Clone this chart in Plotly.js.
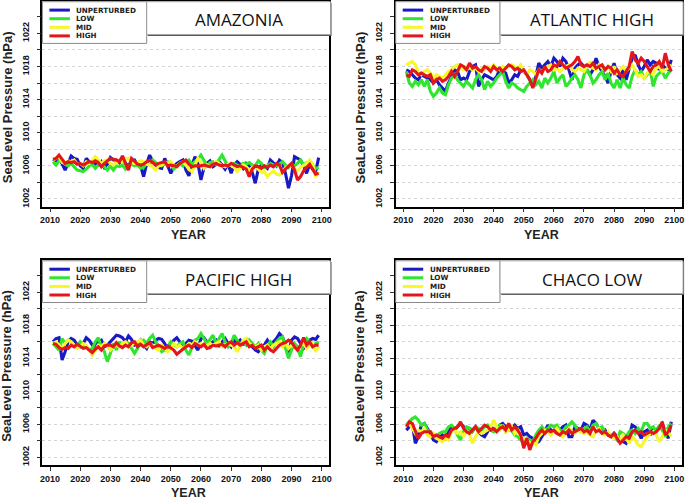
<!DOCTYPE html>
<html>
<head>
<meta charset="utf-8">
<script src="https://cdn.plot.ly/plotly-3.0.1.min.js"></script>
<style>
html,body{margin:0;padding:0;background:#fff;}
#chart{width:685px;height:499px;}
</style>
</head>
<body>
<div id="chart"></div>
<script>
// ---------------- DATA ----------------
const years = [];
for (let y = 2011; y <= 2099; y++) years.push(y);

const panelTitles = ['AMAZONIA', 'ATLANTIC HIGH', 'PACIFIC HIGH', 'CHACO LOW'];
const seriesNames = ['UNPERTURBED', 'LOW', 'MID', 'HIGH'];
const xTickVals = [2010, 2020, 2030, 2040, 2050, 2060, 2070, 2080, 2090, 2100];
const yTickVals = [1002, 1004, 1006, 1008, 1010, 1012, 1014, 1016, 1018, 1020, 1022, 1024];
const yTickText = ['1002', '', '1006', '', '1010', '', '1014', '', '1018', '', '1022', ''];
const xAxisTitle = 'YEAR';
const yAxisTitle = 'SeaLevel Pressure (hPa)';

const amazoniaUnperturbed = [1006.8,1006.6,1007.0,1006.2,1005.5,1006.3,1007.2,1006.9,1006.8,1006.0,
 1005.7,1006.9,1006.5,1006.5,1006.2,1006.1,1006.5,1005.8,1006.2,1007.0,
 1006.7,1006.7,1006.4,1007.0,1006.3,1006.0,1006.6,1006.7,1006.1,1006.0,
 1004.7,1006.2,1007.3,1006.6,1006.1,1005.8,1005.7,1006.9,1006.1,1005.1,
 1005.9,1006.3,1006.5,1006.7,1005.5,1004.8,1006.0,1007.1,1006.3,1004.3,
 1005.8,1006.3,1006.6,1005.9,1006.2,1006.5,1006.1,1005.6,1006.2,1005.1,
 1006.1,1006.5,1006.2,1005.7,1006.3,1006.0,1005.2,1003.9,1005.6,1006.1,
 1006.0,1005.7,1006.7,1006.3,1006.0,1006.7,1006.4,1005.1,1003.3,1004.8,
 1007.1,1006.9,1006.7,1006.0,1005.1,1006.2,1005.6,1005.3,1007.0];
const amazoniaLow = [1006.5,1006.1,1006.6,1006.7,1006.2,1006.0,1006.3,1005.9,1005.5,1005.4,
 1005.3,1005.6,1006.0,1006.2,1005.7,1006.1,1006.3,1005.9,1005.5,1006.0,
 1005.5,1006.0,1005.9,1006.1,1005.6,1006.0,1006.2,1006.0,1006.1,1005.7,
 1005.8,1006.3,1006.1,1006.7,1006.4,1006.1,1006.0,1006.2,1006.5,1006.3,
 1005.6,1006.0,1006.3,1006.0,1006.4,1006.7,1006.2,1006.5,1006.8,1007.3,
 1006.6,1006.0,1006.4,1006.5,1006.2,1006.7,1007.3,1006.6,1006.0,1006.2,
 1006.3,1006.1,1005.9,1006.3,1006.2,1006.4,1006.1,1006.0,1006.6,1006.3,
 1005.8,1006.0,1006.3,1006.1,1006.0,1006.2,1006.5,1006.1,1005.8,1006.2,
 1006.0,1006.3,1006.7,1006.1,1006.4,1006.2,1006.0,1005.7,1005.8];
const amazoniaMid = [1006.7,1006.9,1007.1,1006.4,1006.3,1006.6,1006.5,1006.7,1006.2,1006.3,
 1006.0,1006.5,1006.3,1006.6,1007.1,1006.7,1006.3,1006.6,1006.7,1006.3,
 1006.1,1006.4,1006.7,1006.5,1006.8,1006.9,1006.4,1006.3,1006.5,1006.6,
 1006.5,1006.2,1006.1,1005.9,1005.5,1006.0,1006.1,1006.4,1006.3,1006.5,
 1006.0,1005.9,1006.3,1006.5,1006.1,1005.6,1005.3,1006.2,1006.9,1006.4,
 1005.7,1006.1,1005.9,1006.2,1006.5,1006.3,1006.0,1005.9,1006.2,1006.1,
 1005.8,1005.3,1005.7,1006.1,1005.9,1005.5,1005.8,1006.0,1005.6,1005.2,
 1005.3,1004.7,1005.1,1005.4,1005.0,1004.9,1005.2,1005.8,1006.0,1006.1,
 1005.6,1005.4,1005.8,1006.0,1006.3,1006.7,1006.2,1004.7,1005.3];
const amazoniaHigh = [1006.8,1006.9,1007.3,1006.8,1006.3,1006.5,1006.4,1006.5,1006.2,1006.3,
 1006.1,1006.3,1006.5,1006.4,1006.6,1006.4,1005.9,1006.3,1006.6,1006.9,
 1006.8,1006.7,1006.5,1007.2,1006.3,1005.5,1006.9,1006.6,1006.2,1006.1,
 1006.2,1006.5,1006.7,1006.4,1006.1,1006.3,1006.4,1006.5,1006.0,1006.1,
 1006.0,1005.9,1006.3,1006.5,1006.7,1006.2,1005.9,1006.0,1006.0,1006.0,
 1006.1,1006.0,1005.9,1006.2,1006.3,1006.1,1006.0,1006.1,1006.0,1006.3,
 1006.1,1005.9,1006.0,1005.8,1005.6,1004.7,1005.6,1006.0,1005.9,1005.7,
 1006.0,1005.8,1006.1,1005.9,1006.3,1006.1,1005.2,1005.6,1006.0,1006.3,
 1005.5,1004.3,1004.7,1005.4,1005.8,1006.2,1005.6,1005.0,1005.1];

const atlanticUnperturbed = [1017.6,1017.4,1017.0,1016.6,1016.4,1017.0,1016.8,1016.6,1016.4,1016.0,
 1016.4,1015.8,1015.4,1015.0,1016.0,1016.8,1017.6,1017.4,1016.4,1016.6,
 1016.4,1017.4,1018.0,1018.2,1015.6,1016.4,1017.0,1016.8,1016.6,1016.4,
 1016.8,1017.6,1017.4,1017.2,1016.0,1016.4,1017.0,1016.8,1017.6,1017.4,
 1017.0,1016.4,1015.8,1016.8,1018.4,1017.8,1018.2,1018.6,1018.0,1019.0,
 1018.6,1018.0,1019.0,1018.6,1017.6,1016.4,1017.8,1018.2,1018.4,1018.0,
 1017.6,1017.0,1017.6,1019.0,1018.0,1017.4,1016.8,1016.0,1017.4,1018.4,
 1017.0,1016.6,1017.6,1016.4,1017.8,1019.0,1019.4,1018.2,1017.4,1018.0,
 1018.8,1018.2,1018.6,1018.4,1017.6,1018.2,1017.8,1017.6,1018.8];
const atlanticLow = [1017.4,1016.0,1015.6,1016.2,1015.8,1016.4,1015.6,1016.4,1015.0,1014.4,
 1014.8,1015.4,1014.8,1014.6,1015.8,1016.6,1017.0,1016.4,1016.0,1015.6,
 1016.2,1015.8,1015.4,1016.4,1017.0,1016.4,1015.2,1016.2,1015.6,1016.0,
 1016.6,1017.0,1017.4,1016.2,1015.4,1016.0,1015.8,1015.4,1015.2,1015.0,
 1015.6,1016.0,1016.4,1015.8,1016.2,1015.4,1016.6,1016.0,1016.6,1017.4,
 1016.0,1016.6,1017.0,1015.6,1016.0,1016.6,1017.0,1016.4,1015.4,1017.0,
 1017.6,1017.0,1016.0,1016.4,1017.0,1017.4,1016.4,1017.2,1016.0,1015.4,
 1016.4,1015.4,1016.6,1015.8,1015.4,1016.8,1017.6,1017.0,1017.4,1016.6,
 1017.0,1017.6,1015.6,1016.8,1017.2,1017.4,1016.6,1017.2,1017.6];
const atlanticMid = [1018.2,1018.4,1018.6,1018.2,1017.4,1017.0,1017.4,1017.6,1017.2,1016.6,
 1017.0,1016.8,1016.6,1017.0,1017.4,1017.6,1018.0,1018.2,1017.8,1017.6,
 1018.0,1017.8,1017.6,1017.8,1017.4,1017.8,1017.6,1018.0,1017.8,1018.2,
 1017.8,1017.6,1018.0,1017.8,1018.0,1018.2,1018.0,1017.8,1018.2,1017.4,
 1017.0,1017.6,1017.4,1017.0,1017.6,1017.4,1017.8,1018.0,1018.2,1017.6,
 1017.8,1017.4,1017.8,1018.0,1018.2,1017.6,1017.4,1017.8,1017.6,1017.4,
 1018.0,1018.6,1017.8,1017.6,1018.2,1017.8,1017.6,1018.0,1017.4,1018.0,
 1017.2,1017.6,1018.0,1017.4,1017.8,1018.2,1017.6,1016.8,1017.0,1016.6,
 1017.2,1017.4,1017.0,1017.8,1018.0,1017.4,1017.6,1017.8,1018.2];
const atlanticHigh = [1017.0,1016.8,1017.6,1017.4,1017.0,1017.2,1017.0,1016.8,1017.0,1016.0,
 1016.4,1016.6,1016.2,1016.4,1016.8,1017.4,1016.8,1017.4,1018.2,1018.0,
 1017.6,1018.4,1017.8,1018.0,1017.6,1017.4,1018.0,1017.8,1017.4,1018.0,
 1017.6,1017.8,1017.4,1017.8,1018.2,1018.0,1017.6,1017.8,1017.4,1017.6,
 1017.0,1016.4,1015.4,1016.4,1017.6,1017.2,1018.0,1017.4,1017.6,1018.2,
 1018.0,1018.6,1018.2,1017.8,1018.0,1018.2,1018.6,1019.2,1018.2,1018.0,
 1018.2,1018.0,1018.4,1017.8,1018.0,1018.2,1017.6,1018.0,1017.8,1017.2,
 1017.6,1017.0,1016.8,1017.4,1018.0,1019.8,1018.8,1018.4,1019.0,1018.6,
 1018.0,1017.4,1018.0,1018.2,1018.6,1017.8,1019.6,1018.2,1017.4];

const pacificUnperturbed = [1016.0,1016.4,1016.5,1013.8,1014.8,1016.0,1016.4,1016.2,1015.6,1015.4,
 1015.8,1016.5,1016.2,1015.6,1015.4,1016.0,1016.2,1015.4,1015.6,1016.0,
 1016.4,1016.8,1016.7,1016.5,1016.0,1016.7,1016.3,1015.6,1015.8,1016.2,
 1015.6,1015.2,1016.0,1015.8,1016.2,1016.4,1016.3,1015.8,1015.0,1015.4,
 1016.2,1016.5,1016.0,1015.4,1015.8,1016.2,1016.1,1015.6,1015.0,1016.4,
 1016.5,1016.0,1015.6,1016.0,1016.2,1015.4,1016.0,1016.4,1015.8,1015.4,
 1016.2,1015.9,1016.2,1015.6,1016.4,1015.8,1015.4,1015.0,1014.8,1015.2,
 1015.6,1016.2,1015.6,1016.0,1016.4,1017.0,1016.6,1015.6,1014.6,1016.2,
 1016.6,1016.4,1015.8,1015.2,1015.6,1016.2,1016.4,1016.3,1016.8];
const pacificLow = [1015.8,1015.4,1015.0,1016.4,1015.8,1016.2,1016.0,1015.6,1015.4,1016.0,
 1015.6,1015.4,1015.0,1015.2,1016.0,1016.5,1015.4,1014.8,1013.6,1014.6,
 1015.8,1015.0,1016.0,1015.4,1015.6,1015.8,1015.2,1014.6,1015.2,1016.0,
 1016.2,1015.8,1016.4,1016.8,1016.0,1015.4,1014.8,1015.0,1015.4,1016.0,
 1015.6,1015.4,1015.8,1016.0,1015.0,1014.4,1015.4,1016.2,1016.4,1017.0,
 1016.4,1015.8,1016.3,1016.8,1015.8,1016.5,1017.0,1016.0,1015.4,1015.8,
 1016.8,1016.2,1015.4,1016.0,1015.6,1016.2,1015.8,1015.4,1015.8,1015.0,
 1014.6,1015.6,1016.0,1015.4,1016.0,1016.4,1016.6,1015.4,1014.0,1015.0,
 1015.8,1015.4,1014.2,1015.8,1016.4,1016.0,1015.4,1015.8,1016.0];
const pacificMid = [1015.8,1016.0,1015.6,1015.2,1015.8,1016.2,1016.0,1015.6,1015.2,1015.4,
 1015.8,1015.6,1015.0,1014.4,1015.0,1015.6,1015.4,1015.8,1015.6,1015.0,
 1015.4,1015.6,1015.4,1015.8,1016.0,1015.4,1015.6,1015.8,1016.0,1016.2,
 1015.6,1015.4,1015.8,1015.6,1015.2,1015.0,1015.6,1015.2,1014.8,1015.2,
 1015.8,1015.4,1015.6,1015.2,1015.4,1015.8,1015.6,1016.0,1015.6,1015.8,
 1015.4,1015.6,1015.8,1015.6,1015.8,1016.0,1015.4,1015.6,1015.8,1015.6,
 1015.4,1014.8,1015.6,1016.2,1016.4,1015.8,1015.6,1015.4,1015.6,1015.0,
 1015.4,1015.6,1015.2,1015.6,1015.8,1016.0,1015.4,1015.8,1015.2,1015.6,
 1015.4,1015.0,1015.6,1015.8,1015.2,1015.6,1015.8,1014.8,1015.4];
const pacificHigh = [1015.8,1015.7,1015.3,1015.1,1015.3,1015.2,1015.6,1015.4,1015.7,1015.5,
 1015.2,1015.3,1015.0,1014.7,1015.1,1015.4,1015.0,1015.5,1015.6,1015.6,
 1015.4,1015.9,1015.5,1015.3,1015.6,1015.4,1015.9,1016.0,1015.4,1015.7,
 1015.4,1015.6,1015.9,1015.3,1015.5,1015.6,1015.4,1015.2,1015.5,1015.2,
 1015.0,1014.5,1014.8,1015.2,1015.4,1015.6,1015.3,1015.8,1015.6,1015.4,
 1015.7,1015.2,1015.3,1015.6,1015.5,1015.6,1015.7,1015.4,1015.8,1016.0,
 1015.6,1015.9,1015.6,1015.8,1016.0,1015.4,1015.6,1015.2,1015.4,1015.6,
 1015.0,1015.4,1015.0,1014.8,1015.2,1015.6,1015.8,1015.9,1016.2,1016.0,
 1015.4,1015.0,1015.6,1016.5,1015.6,1016.0,1015.4,1015.6,1015.6];

const chacoUnperturbed = [1005.3,1005.7,1006.1,1003.7,1004.5,1005.9,1006.1,1005.5,1004.9,1004.1,
 1003.9,1004.5,1004.7,1004.3,1005.1,1005.7,1005.3,1005.7,1006.1,1005.7,
 1005.1,1005.5,1005.3,1005.7,1005.1,1004.7,1004.5,1005.1,1005.7,1005.3,
 1005.5,1005.9,1006.1,1005.7,1005.3,1005.5,1005.9,1005.5,1005.7,1004.7,
 1004.9,1004.5,1004.3,1003.7,1003.9,1004.5,1005.1,1005.9,1005.3,1005.1,
 1005.5,1005.3,1005.7,1005.9,1004.5,1004.5,1005.7,1005.5,1005.3,1006.1,
 1005.9,1005.3,1006.5,1006.1,1005.5,1005.1,1005.3,1004.7,1004.5,1004.9,
 1004.5,1004.1,1003.9,1003.7,1004.5,1005.9,1005.7,1005.1,1004.3,1005.1,
 1005.3,1004.7,1005.5,1005.3,1005.7,1006.1,1005.1,1004.3,1006.3];
const chacoLow = [1005.9,1006.3,1006.7,1006.9,1006.5,1005.9,1006.1,1005.3,1005.1,1004.7,
 1004.5,1004.9,1005.1,1005.1,1005.7,1005.9,1005.5,1004.7,1004.1,1005.1,
 1005.7,1005.5,1005.1,1005.7,1005.5,1005.3,1005.7,1005.9,1005.3,1005.1,
 1005.5,1005.9,1005.7,1005.1,1005.5,1005.3,1004.7,1004.5,1004.1,1003.9,
 1004.3,1004.1,1003.9,1004.7,1005.3,1005.7,1005.3,1005.5,1005.9,1005.7,
 1005.9,1005.3,1005.1,1005.7,1005.9,1006.3,1005.9,1005.3,1005.1,1005.5,
 1005.7,1005.1,1005.9,1006.1,1005.5,1005.7,1005.1,1004.9,1004.7,1004.5,
 1004.1,1005.1,1004.9,1004.5,1005.1,1005.3,1004.9,1005.5,1005.1,1006.1,
 1006.1,1005.5,1005.7,1005.1,1005.9,1005.3,1004.5,1005.7,1006.1];
const chacoMid = [1005.9,1006.1,1005.5,1004.9,1005.3,1005.1,1005.5,1004.7,1004.5,1004.9,
 1004.3,1004.1,1003.9,1004.3,1004.1,1005.1,1005.3,1004.9,1005.1,1004.5,
 1005.3,1004.7,1003.7,1004.5,1005.1,1004.9,1005.1,1005.3,1005.7,1006.5,
 1005.7,1005.3,1005.9,1005.1,1005.3,1005.7,1004.9,1005.3,1004.5,1004.3,
 1004.1,1003.7,1003.9,1003.5,1004.5,1004.9,1005.3,1005.1,1004.7,1005.1,
 1005.5,1004.9,1004.5,1005.1,1005.5,1005.1,1004.9,1005.3,1005.1,1004.9,
 1005.1,1004.7,1004.5,1005.1,1005.5,1004.9,1004.7,1005.1,1004.5,1004.3,
 1004.5,1003.9,1004.7,1004.3,1003.7,1004.5,1004.1,1003.5,1003.3,1003.9,
 1004.5,1004.9,1005.1,1004.7,1003.9,1004.5,1005.3,1005.1,1004.5];
const chacoHigh = [1005.7,1006.3,1006.1,1005.1,1004.3,1004.9,1005.1,1005.1,1005.1,1004.5,
 1004.7,1004.5,1004.3,1004.7,1004.5,1005.3,1005.5,1005.7,1006.3,1005.5,
 1005.1,1004.9,1005.3,1005.7,1005.1,1005.5,1005.9,1005.7,1005.3,1005.5,
 1005.1,1005.5,1005.7,1005.3,1006.1,1005.3,1005.7,1005.3,1004.7,1003.1,
 1004.3,1002.9,1003.9,1004.3,1004.9,1005.3,1004.9,1005.3,1005.1,1005.3,
 1004.9,1004.7,1005.1,1004.9,1005.3,1004.9,1005.1,1005.3,1005.5,1005.1,
 1005.3,1004.9,1005.7,1005.1,1005.3,1004.9,1005.1,1004.7,1004.5,1004.9,
 1004.3,1003.7,1004.1,1004.5,1004.3,1005.1,1005.3,1004.9,1005.1,1004.7,
 1004.9,1005.1,1004.9,1005.1,1005.5,1006.3,1004.7,1005.1,1005.9];

const panelSeries = [
  [amazoniaUnperturbed, amazoniaLow, amazoniaMid, amazoniaHigh],
  [atlanticUnperturbed, atlanticLow, atlanticMid, atlanticHigh],
  [pacificUnperturbed, pacificLow, pacificMid, pacificHigh],
  [chacoUnperturbed, chacoLow, chacoMid, chacoHigh]
];

// ---------------- STYLE / GEOMETRY ----------------
const W = 685, H = 499;
const colors = ['#1a1ac4', '#2ee62e', '#f7f72a', '#e4161c'];
const boldFont = 'Liberation Sans, Arial, sans-serif';
const legendFont = 'DejaVu Sans, Liberation Sans, sans-serif';
// plot rectangles in pixels [left, right, top, bottom]
const rects = [
  [42.4, 329.3, 0.9, 206.6],
  [395.7, 681.9, 0.9, 206.6],
  [42.4, 329.3, 260.0, 464.9],
  [395.7, 681.9, 260.0, 464.9]
];
const fx = p => p / W;
const fy = p => 1 - p / H;

const traces = [];
const layout = {
  width: W, height: H,
  margin: {l: 0, r: 0, t: 0, b: 0, pad: 0},
  paper_bgcolor: '#ffffff', plot_bgcolor: '#ffffff',
  showlegend: false,
  shapes: [], annotations: []
};

rects.forEach((r, i) => {
  const n = i === 0 ? '' : String(i + 1);
  const [L, R, T, B] = r;
  layout['xaxis' + n] = {
    domain: [fx(L), fx(R)], anchor: 'y' + n,
    range: [2007.48, 2102.52], tickvals: xTickVals,
    ticks: 'outside', ticklen: 4, tickwidth: 1, tickcolor: '#333',
    tickfont: {family: boldFont, size: 9, color: '#111', weight: 'bold'},
    ticklabelstandoff: 0,
    showgrid: false, zeroline: false,
    showline: true, mirror: true, linecolor: '#000', linewidth: 1.6
  };
  layout['yaxis' + n] = {
    domain: [fy(B), fy(T)], anchor: 'x' + n,
    range: [1001.08, 1025.92], tickvals: yTickVals, ticktext: yTickText,
    tickangle: -90,
    ticks: 'outside', ticklen: 4, tickwidth: 1, tickcolor: '#333',
    tickfont: {family: boldFont, size: 9, color: '#111', weight: 'bold'},
    ticklabelstandoff: 4,
    showgrid: true, gridcolor: '#d4d4d4', griddash: 'dot', gridwidth: 1,
    zeroline: false,
    showline: true, mirror: true, linecolor: '#000', linewidth: 1.6
  };

  panelSeries[i].forEach((vals, k) => {
    traces.push({
      x: years, y: vals, type: 'scatter', mode: 'lines',
      name: seriesNames[k], xaxis: 'x' + n, yaxis: 'y' + n,
      line: {color: colors[k], width: 3.1},
      hoverinfo: 'x+y+name'
    });
  });

  // legend box
  const lgTop = T + 0.8, lgBot = T + 42.5, lgRight = L + 104.3;
  layout.shapes.push({type: 'rect', xref: 'paper', yref: 'paper',
    x0: fx(L), x1: fx(lgRight), y0: fy(lgBot), y1: fy(lgTop),
    fillcolor: '#ffffff', line: {color: '#8a8a8a', width: 1}, layer: 'above'});
  const rowOff = [8.4, 17.0, 25.6, 34.2];
  seriesNames.forEach((nm, k) => {
    const yy = lgTop + rowOff[k];
    layout.shapes.push({type: 'line', xref: 'paper', yref: 'paper',
      x0: fx(L + 7), x1: fx(L + 27.5), y0: fy(yy), y1: fy(yy),
      line: {color: colors[k], width: 3}, layer: 'above'});
    layout.annotations.push({xref: 'paper', yref: 'paper',
      x: fx(L + 32), y: fy(yy), xanchor: 'left', yanchor: 'middle',
      text: nm, showarrow: false,
      font: {family: legendFont, size: 7.2, color: '#222', weight: 'bold'}});
  });

  // title box with shadow
  const tbL = lgRight, tbR = R + 1.2, tbT = T + 0.8, tbB = T + 33.8;
  layout.shapes.push({type: 'rect', xref: 'paper', yref: 'paper',
    x0: fx(tbL + 1.2), x1: fx(tbR + 1.0), y0: fy(tbB + 1.2), y1: fy(tbT + 1.2),
    fillcolor: '#4a4a4a', line: {width: 0}, layer: 'above'});
  layout.shapes.push({type: 'rect', xref: 'paper', yref: 'paper',
    x0: fx(tbL), x1: fx(tbR), y0: fy(tbB), y1: fy(tbT),
    fillcolor: '#ffffff', line: {color: '#9a9a9a', width: 1}, layer: 'above'});
  layout.annotations.push({xref: 'paper', yref: 'paper',
    x: fx((tbL + tbR) / 2), y: fy(T + 19), xanchor: 'center', yanchor: 'middle',
    text: panelTitles[i], showarrow: false,
    font: {family: 'Open Sans, Liberation Sans, sans-serif', size: 17, color: '#111'}});

  // axis titles
  layout.annotations.push({xref: 'paper', yref: 'paper',
    x: fx((L + R) / 2 + 2.5), y: fy(B + 28.5), xanchor: 'center', yanchor: 'middle',
    text: xAxisTitle, showarrow: false,
    font: {family: boldFont, size: 12.5, color: '#222', weight: 'bold'}});
  layout.annotations.push({xref: 'paper', yref: 'paper',
    x: fx(L - 35.5), y: fy((T + B) / 2 + 3.5), xanchor: 'center', yanchor: 'middle',
    textangle: -90, text: yAxisTitle, showarrow: false,
    font: {family: boldFont, size: 13, color: '#222', weight: 'bold'}});
});

Plotly.newPlot('chart', traces, layout, {displayModeBar: false, staticPlot: false});
</script>
</body>
</html>
